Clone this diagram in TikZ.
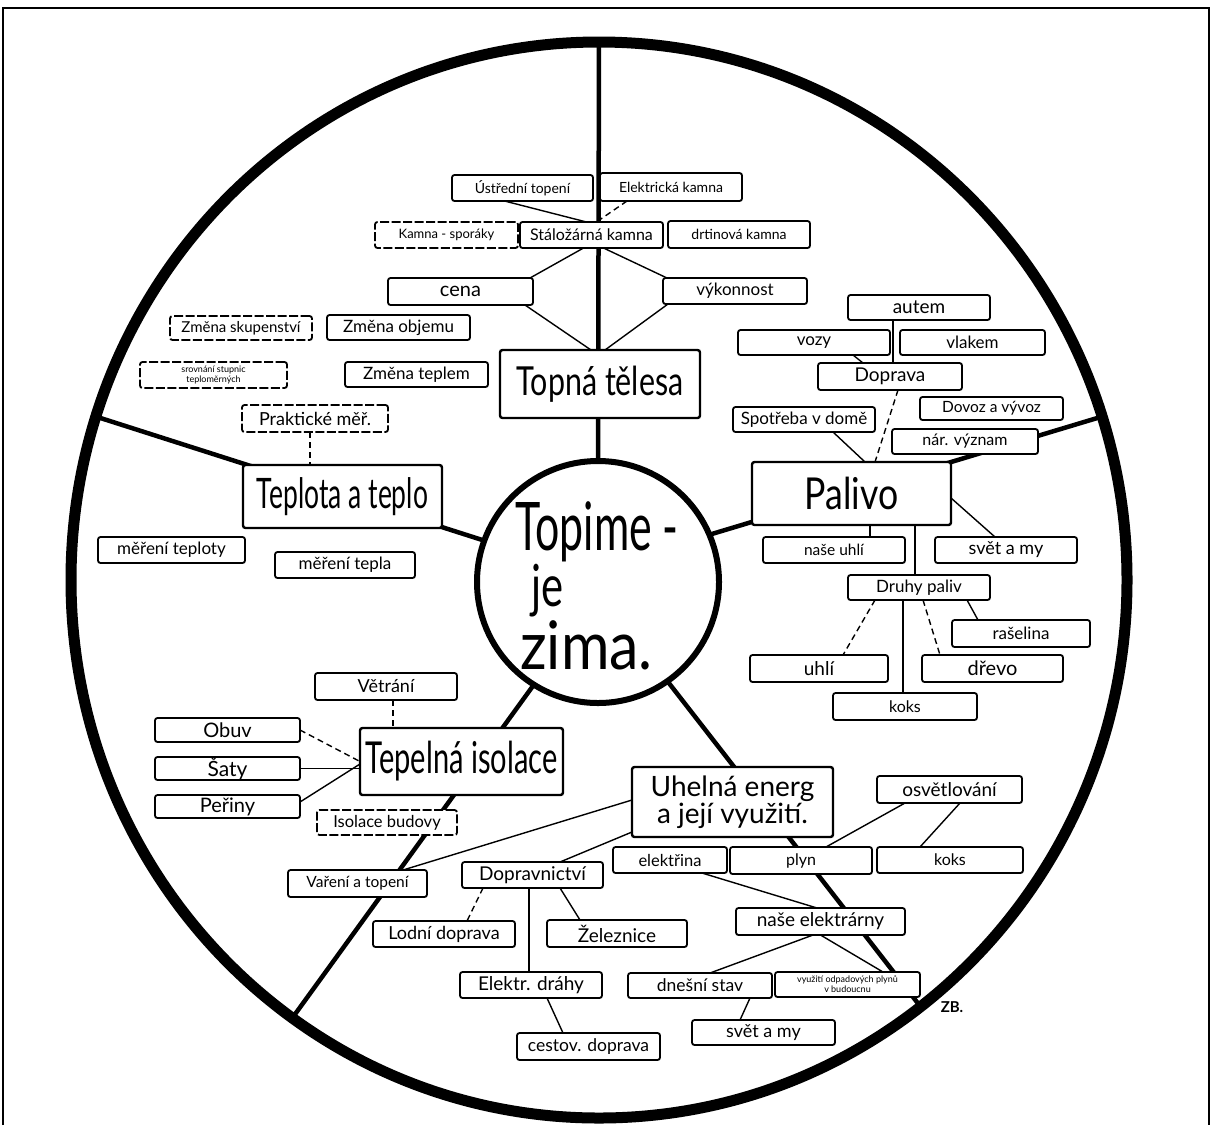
\documentclass[tikz,border=0pt]{standalone}
\usepackage{fontspec}
\usepackage{graphicx}
\setmainfont{Lato}
\usetikzlibrary{calc,shapes.geometric}
% horizontal squeeze for the hand-lettered titles
\newcommand\hsq[2]{\scalebox{#1}[1]{#2}}
% labelled box given by its corners: [options]{name}{x1}{y1}{x2}{y2}{text}
\newcommand\mapbox[7][]{%
  \pgfmathsetmacro\bxw{#5-#3}\pgfmathsetmacro\bxh{#6-#4}%
  \node[sbox,minimum width=\bxw pt,minimum height=\bxh pt,#1] (#2) at ({(#3+#5)/2},{(#4+#6)/2}) {#7};}
\begin{document}
\begin{tikzpicture}[x=1pt,y=-1pt,
  sbox/.style={draw,line width=1.8pt,rounded corners=2.5pt,fill=white,inner sep=0pt,outer sep=0pt,
               align=center,font=\fontsize{17}{18}\selectfont},
  fs/.style={font=\fontsize{#1}{#1}\selectfont},
  bigbox/.style={line width=2.4pt},
  dbox/.style={dash pattern=on 9pt off 2.5pt},
  link/.style={line width=1.4pt,line cap=round},
  dlink/.style={line width=1.4pt,dash pattern=on 6pt off 4pt},
  spoke/.style={line width=4.5pt},
  hubtext/.style={anchor=base west,inner sep=0pt}]

\fill[white] (0,0) rectangle (1214,1125);
\useasboundingbox (0,0) rectangle (1214,1125);
\draw[line width=1.2pt] (3,1125) -- (3,8) -- (1209,8) -- (1209,1125);

% outer wheel and hub
\node[ellipse,draw,line width=11pt,inner sep=0pt,outer sep=0pt,
      minimum width=1056pt,minimum height=1076pt] (rim) at (599,580) {};
\node[circle,draw,line width=6pt,inner sep=0pt,outer sep=0pt,
      minimum size=242pt,fill=white] (core) at (598,582) {};

% the five spokes
\draw[spoke] (core.90)   -- (rim.90);
\draw[spoke] (core.160)  -- (rim.162);
\draw[spoke] (core.23)   -- (rim.18);
\draw[spoke] (core.-55)  -- (rim.-53.7);
\draw[spoke] (core.-122) -- (rim.-125);

% hub lettering
\node[hubtext,font=\fontsize{67}{67}\selectfont,text depth=0pt] (ct1) at (515,550) {\hsq{0.64}{Topime -}};
\node[hubtext,font=\fontsize{58}{58}\selectfont,text height=30pt,text depth=0pt] (ct2) at (531,606) {\hsq{0.72}{je}};
\node[hubtext,font=\fontsize{67}{67}\selectfont,text height=33pt] (ct3) at (520,669) {\hsq{0.88}{zima.}};

% ---- heating bodies (top)
\mapbox[fs=14]{ustr}{452}{175}{593}{201}{Ústřední topení}
\mapbox[fs=14]{elek}{600}{173}{742}{201}{Elektrická kamna}
\mapbox[fs=13,dbox]{kasp}{375}{222}{518}{248}{Kamna - sporáky}
\mapbox[fs=16]{stal}{520}{222}{663}{248}{Stáložárná kamna}
\mapbox[fs=14]{drti}{668}{221}{810}{248}{drtinová kamna}
\mapbox[fs=20]{cena}{388}{278}{533}{305}{cena}
\mapbox[fs=17]{vyko}{663}{278}{807}{304}{výkonnost}
\mapbox[bigbox,fs=40]{topna}{500}{350}{700}{418}{\hsq{0.76}{Topná tělesa}}

% ---- temperature and heat (left)
\mapbox[fs=15,dbox]{skup}{170}{316}{312}{340}{Změna skupenství}
\mapbox[fs=17]{obje}{327}{315}{470}{340}{Změna objemu}
\mapbox[font=\fontsize{9}{10}\selectfont,dbox]{srov}{140}{362}{287}{388}{srovnání stupnic\\teploměrných}
\mapbox[fs=17]{tepl}{345}{362}{488}{387}{Změna teplem}
\mapbox[fs=18,dbox]{prak}{242}{405}{388}{432}{Praktické měř.}
\mapbox[bigbox,fs=42]{tat}{243}{465}{442}{528}{\hsq{0.63}{Teplota a teplo}}
\mapbox[fs=17]{mety}{98}{537}{245}{563}{měření teploty}
\mapbox[fs=17]{meta}{275}{552}{415}{578}{měření tepla}

% ---- fuel (right)
\mapbox[fs=19]{autem}{848}{295}{990}{320}{autem}
\mapbox[fs=17]{vozy}{738}{330}{890}{355}{vozy}
\mapbox[fs=17]{vlak}{900}{330}{1045}{355}{vlakem}
\mapbox[fs=19]{dopr}{818}{363}{962}{390}{Doprava}
\mapbox[fs=17]{spot}{733}{407}{875}{432}{Spotřeba v domě}
\mapbox[fs=15.5]{dovoz}{920}{397}{1063}{420}{Dovoz a vývoz}
\mapbox[fs=16]{narv}{892}{429}{1038}{454}{nár. význam}
\mapbox[bigbox,fs=44]{pali}{752}{462}{951}{525}{\hsq{0.81}{Palivo}}
\mapbox[fs=15.5]{nasu}{763}{537}{905}{563}{naše uhlí}
\mapbox[fs=18]{svet}{935}{537}{1077}{563}{svět a my}
\mapbox[fs=17]{druh}{848}{575}{990}{600}{Druhy paliv}
\mapbox[fs=17]{rase}{952}{620}{1090}{647}{rašelina}
\mapbox[fs=19]{uhli}{750}{655}{888}{682}{uhlí}
\mapbox[fs=20]{drev}{922}{655}{1063}{682}{dřevo}
\mapbox[fs=16]{koks}{833}{693}{977}{720}{koks}

% ---- thermal insulation (lower left)
\mapbox[fs=18]{vetr}{315}{673}{457}{700}{Větrání}
\mapbox[fs=20]{obuv}{155}{718}{300}{742}{Obuv}
\mapbox[fs=21]{saty}{155}{757}{300}{780}{Šaty}
\mapbox[fs=20]{peri}{155}{795}{300}{818}{Peřiny}
\mapbox[bigbox,fs=44]{tiso}{360}{728}{563}{795}{\hsq{0.66}{Tepelná isolace}}
\mapbox[fs=16.5,dbox]{isob}{317}{810}{457}{835}{Isolace budovy}
\mapbox[fs=15.5]{vare}{288}{870}{427}{897}{Vaření a topení}

% ---- coal energy (bottom)
\mapbox[bigbox,font=\fontsize{28}{24}\selectfont]{uhel}{632}{767}{833}{837}{Uhelná energ\\a její využití.}
\mapbox[fs=19]{dpct}{462}{862}{603}{888}{Dopravnictví}
\mapbox[fs=18]{lodn}{373}{921}{515}{947}{Lodní doprava}
\mapbox[fs=19]{zele}{547}{920}{687}{947}{Železnice}
\mapbox[fs=19]{eldr}{460}{972}{602}{998}{Elektr. dráhy}
\mapbox[fs=17.5]{cest}{517}{1033}{660}{1060}{cestov. doprava}
\mapbox[fs=16.5]{elna}{613}{847}{727}{873}{elektřina}
\mapbox[fs=16]{plyn}{730}{847}{872}{874}{plyn}
\mapbox[fs=16]{koks2}{877}{847}{1023}{873}{koks}
\mapbox[fs=19]{osve}{877}{776}{1022}{803}{osvětlování}
\mapbox[fs=19]{nase}{736}{908}{905}{935}{naše elektrárny}
\mapbox[fs=17.5]{dnes}{628}{973}{772}{998}{dnešní stav}
\mapbox[font=\fontsize{9}{10}\selectfont]{vyuz}{775}{972}{920}{997}{využití odpadových plynů\\v budoucnu}
\mapbox[fs=18]{svet2}{692}{1020}{835}{1045}{svět a my}

\node[font=\bfseries\fontsize{15}{15}\selectfont,inner sep=0pt] (zb) at (952,1007) {ZB.};

% ---- connectors
\draw[link]  ([xshift=-18pt]ustr.south) -- ([xshift=-5pt]stal.north);
\draw[dlink] ([xshift=-44pt]elek.south) -- ([xshift=5pt]stal.north);
\draw[link]  ([xshift=-8pt]stal.south) -- ([xshift=-3pt]cena.north east);
\draw[link]  ([xshift=12pt]stal.south) -- ([xshift=4pt]vyko.north west);
\draw[link]  ([xshift=-8pt]cena.south east) -- ([xshift=-9pt]topna.north);
\draw[link]  ([xshift=5pt]vyko.south west) -- ([xshift=5pt]topna.north);

\draw[dlink] ([xshift=-5pt]prak.south) -- ([xshift=-32.5pt]tat.north);

\draw[link]  ([xshift=-26pt]autem.south) -- ([xshift=3pt]dopr.north);
\draw[link]  ([xshift=39pt]vozy.south) -- ([xshift=-27pt]dopr.north);
\draw[dlink] ([xshift=8pt]dopr.south) -- ([xshift=23.5pt]pali.north);
\draw[link]  ([xshift=29pt]spot.south) -- ([xshift=13.5pt]pali.north);
\draw[link]  ([yshift=-4.5pt]pali.east) -- ([xshift=-11pt]svet.north);
\draw[link]  ([xshift=18.5pt]pali.south) -- ([xshift=36pt]nasu.north);
\draw[link]  ([xshift=63.5pt]pali.south) -- ([xshift=-4pt]druh.north);
\draw[dlink] ([xshift=-44pt]druh.south) -- ([xshift=24pt]uhli.north);
\draw[link]  ([xshift=-16pt]druh.south) -- ([xshift=-2pt]koks.north);
\draw[dlink] ([xshift=4pt]druh.south) -- ([xshift=-52.5pt]drev.north);
\draw[link]  ([xshift=48pt]druh.south) -- ([xshift=-43pt]rase.north);

\draw[dlink] ([xshift=7pt]vetr.south) -- ([xshift=-68.5pt]tiso.north);
\draw[dlink] (obuv.east) -- (tiso.west);
\draw[link]  (saty.east) -- (saty.east -| tiso.west);
\draw[link]  ([yshift=4.5pt]peri.east) -- ([yshift=-2.5pt]tiso.west);

\draw[link]  ([yshift=2pt]uhel.west) -- ([xshift=45.5pt]vare.north);
\draw[link]  ([yshift=-30pt]uhel.west) -- ([xshift=27.5pt]dpct.north);
\draw[dlink] ([xshift=-49.5pt]dpct.south) -- ([xshift=23pt]lodn.north);
\draw[link]  ([xshift=-3.5pt]dpct.south) -- ([xshift=-2pt]eldr.north);
\draw[link]  ([xshift=27.5pt]dpct.south) -- ([xshift=-37pt]zele.north);
\draw[link]  ([xshift=16pt]eldr.south) -- ([xshift=-25.5pt]cest.north);
\draw[link]  ([xshift=32pt]elna.south) -- ([xshift=-3.5pt]nase.north);
\draw[link]  ([xshift=-44.5pt]osve.south) -- ([xshift=25pt]plyn.north);
\draw[link]  ([xshift=10.5pt]osve.south) -- ([xshift=-30pt]koks2.north);
\draw[link]  ([xshift=-7.5pt]nase.south) -- ([xshift=10pt]dnes.north);
\draw[link]  (nase.south) -- ([xshift=35.5pt]vyuz.north);
\draw[link]  ([xshift=50pt]dnes.south) -- ([xshift=-23.5pt]svet2.north);
\end{tikzpicture}
\end{document}
